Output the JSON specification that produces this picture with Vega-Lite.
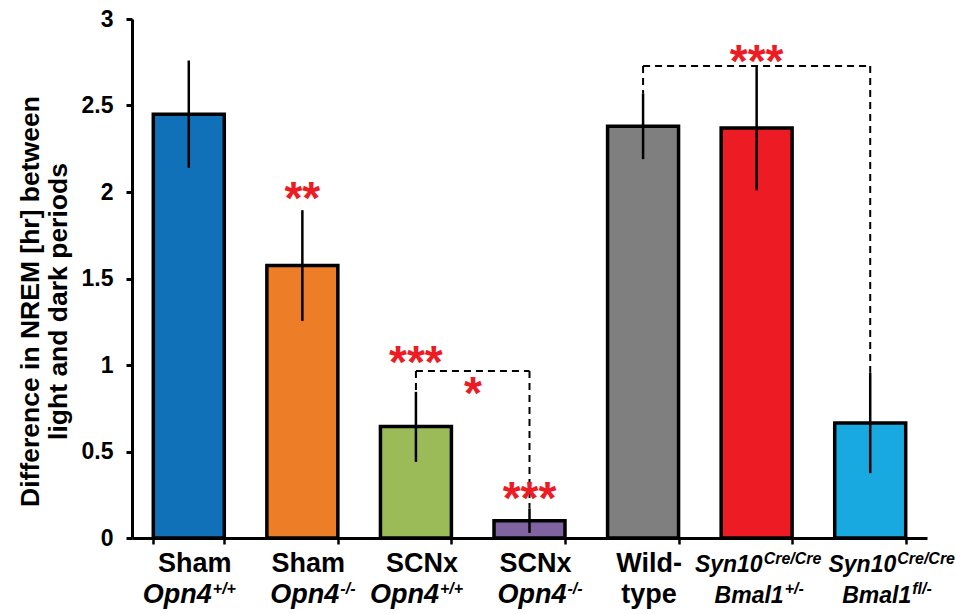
{
  "$schema": "https://vega.github.io/schema/vega-lite/v6.json",
  "width": 795,
  "height": 519,
  "autosize": {"type": "none"},
  "padding": {"left": 132, "top": 19, "right": 29, "bottom": 76},
  "background": "white",
  "config": {"view": {"stroke": null}, "font": "Liberation Sans"},
  "datasets": {
    "bars": [
      {"group": "Sham Opn4+/+", "value": 2.45, "lo": 2.14, "hi": 2.76, "l1": "Sham", "s1": "", "l2": "Opn4", "s2": "+/+"},
      {"group": "Sham Opn4-/-", "value": 1.575, "lo": 1.255, "hi": 1.895, "l1": "Sham", "s1": "", "l2": "Opn4", "s2": "-/-"},
      {"group": "SCNx Opn4+/+", "value": 0.645, "lo": 0.44, "hi": 0.845, "l1": "SCNx", "s1": "", "l2": "Opn4", "s2": "+/+"},
      {"group": "SCNx Opn4-/-", "value": 0.1, "lo": 0.03, "hi": 0.17, "l1": "SCNx", "s1": "", "l2": "Opn4", "s2": "-/-"},
      {"group": "Wild-type", "value": 2.38, "lo": 2.19, "hi": 2.57, "l1": "Wild-", "s1": "", "l2": "type", "s2": ""},
      {"group": "Syn10 Bmal1+/-", "value": 2.37, "lo": 2.01, "hi": 2.73, "l1": "Syn10", "s1": "Cre/Cre", "l2": "Bmal1", "s2": "+/-"},
      {"group": "Syn10 Bmal1fl/-", "value": 0.665, "lo": 0.375, "hi": 0.955, "l1": "Syn10", "s1": "Cre/Cre", "l2": "Bmal1", "s2": "fl/-"}
    ],
    "brackets": [
      {"group": "SCNx Opn4+/+", "group2": "SCNx Opn4-/-", "ya": 0.965, "yb": 0.965},
      {"group": "SCNx Opn4+/+", "group2": "SCNx Opn4+/+", "ya": 0.965, "yb": 0.845},
      {"group": "SCNx Opn4-/-", "group2": "SCNx Opn4-/-", "ya": 0.965, "yb": 0.17},
      {"group": "Wild-type", "group2": "Syn10 Bmal1fl/-", "ya": 2.728, "yb": 2.728},
      {"group": "Wild-type", "group2": "Wild-type", "ya": 2.728, "yb": 2.57},
      {"group": "Syn10 Bmal1fl/-", "group2": "Syn10 Bmal1fl/-", "ya": 2.728, "yb": 0.955}
    ],
    "stars": [
      {"group": "Sham Opn4-/-", "stars": "**", "y": 1.875},
      {"group": "SCNx Opn4+/+", "stars": "***", "y": 0.922},
      {"group": "SCNx Opn4-/-", "stars": "***", "y": 0.141},
      {"group": "Syn10 Bmal1+/-", "stars": "***", "y": 2.665},
      {"group": "SCNx Opn4+/+", "stars": "*", "y": 0.745}
    ]
  },
  "encoding": {
    "x": {
      "field": "group",
      "type": "nominal",
      "sort": null,
      "scale": {
        "domain": ["Sham Opn4+/+", "Sham Opn4-/-", "SCNx Opn4+/+", "SCNx Opn4-/-", "Wild-type", "Syn10 Bmal1+/-", "Syn10 Bmal1fl/-"],
        "paddingInner": 0.375,
        "paddingOuter": 0.1875
      },
      "axis": {
        "labels": false,
        "title": null,
        "grid": false,
        "tickBand": "extent",
        "domainColor": "black",
        "domainWidth": 3,
        "tickColor": "black",
        "tickWidth": 2.5,
        "tickSize": 6
      }
    }
  },
  "layer": [
    {
      "data": {"name": "bars"},
      "mark": {"type": "bar", "stroke": "black", "strokeWidth": 3.5},
      "encoding": {
        "y": {
          "field": "value",
          "type": "quantitative",
          "scale": {"domain": [0, 3], "nice": false, "zero": true},
          "axis": {
            "values": [0, 0.5, 1, 1.5, 2, 2.5, 3],
            "format": "~g",
            "grid": false,
            "domainColor": "black",
            "domainWidth": 3,
            "tickColor": "black",
            "tickWidth": 3,
            "tickSize": 6,
            "labelFont": "Liberation Sans",
            "labelFontWeight": "bold",
            "labelFontSize": 23,
            "labelColor": "black",
            "labelPadding": 13,
            "title": ["Difference in NREM [hr] between", "light and dark periods"],
            "titleFont": "Liberation Sans",
            "titleFontWeight": "bold",
            "titleFontSize": 26.5,
            "titleColor": "black",
            "titleLineHeight": 28,
            "titleAngle": -90,
            "titleBaseline": "alphabetic",
            "titleX": -94,
            "titleY": 282
          }
        },
        "color": {
          "field": "group",
          "type": "nominal",
          "scale": {
            "domain": ["Sham Opn4+/+", "Sham Opn4-/-", "SCNx Opn4+/+", "SCNx Opn4-/-", "Wild-type", "Syn10 Bmal1+/-", "Syn10 Bmal1fl/-"],
            "range": ["#1070B8", "#ED7D27", "#9BBB59", "#8064A2", "#7F7F7F", "#ED1C24", "#17A9E0"]
          },
          "legend": null
        }
      }
    },
    {
      "data": {"name": "bars"},
      "mark": {"type": "rule", "color": "black", "strokeWidth": 2.5},
      "encoding": {
        "y": {"field": "lo", "type": "quantitative"},
        "y2": {"field": "hi"}
      }
    },
    {
      "data": {"name": "brackets"},
      "mark": {"type": "rule", "color": "black", "strokeWidth": 2, "strokeDash": [7, 5]},
      "encoding": {
        "x2": {"field": "group2"},
        "y": {"field": "ya", "type": "quantitative"},
        "y2": {"field": "yb"}
      }
    },
    {
      "data": {"name": "bars"},
      "transform": [{"filter": "datum.s1 == ''"}],
      "mark": {"type": "text", "font": "Liberation Sans", "fontWeight": "bold", "fontSize": 27, "color": "black", "baseline": "alphabetic", "align": "center", "dx": 6},
      "encoding": {
        "y": {"datum": -0.1965, "type": "quantitative"},
        "text": {"field": "l1"}
      }
    },
    {
      "data": {"name": "bars"},
      "transform": [{"filter": "datum.group == 'Wild-type'"}],
      "mark": {"type": "text", "font": "Liberation Sans", "fontWeight": "bold", "fontSize": 27, "color": "black", "baseline": "alphabetic", "align": "center", "dx": 6},
      "encoding": {
        "y": {"datum": -0.376, "type": "quantitative"},
        "text": {"field": "l2"}
      }
    },
    {
      "data": {"name": "bars"},
      "transform": [{"filter": "datum.s2 == '+/+'"}],
      "mark": {"type": "text", "font": "Liberation Sans", "fontWeight": "bold", "fontStyle": "italic", "fontSize": 27, "color": "black", "baseline": "alphabetic", "align": "right", "dx": 23},
      "encoding": {
        "y": {"datum": -0.376, "type": "quantitative"},
        "text": {"field": "l2"}
      }
    },
    {
      "data": {"name": "bars"},
      "transform": [{"filter": "datum.s2 == '+/+'"}],
      "mark": {"type": "text", "font": "Liberation Sans", "fontWeight": "bold", "fontStyle": "italic", "fontSize": 16, "color": "black", "baseline": "alphabetic", "align": "left", "dx": 24, "dy": -9},
      "encoding": {
        "y": {"datum": -0.376, "type": "quantitative"},
        "text": {"field": "s2"}
      }
    },
    {
      "data": {"name": "bars"},
      "transform": [{"filter": "datum.s2 == '-/-'"}],
      "mark": {"type": "text", "font": "Liberation Sans", "fontWeight": "bold", "fontStyle": "italic", "fontSize": 27, "color": "black", "baseline": "alphabetic", "align": "right", "dx": 37},
      "encoding": {
        "y": {"datum": -0.376, "type": "quantitative"},
        "text": {"field": "l2"}
      }
    },
    {
      "data": {"name": "bars"},
      "transform": [{"filter": "datum.s2 == '-/-'"}],
      "mark": {"type": "text", "font": "Liberation Sans", "fontWeight": "bold", "fontStyle": "italic", "fontSize": 16, "color": "black", "baseline": "alphabetic", "align": "left", "dx": 38, "dy": -9},
      "encoding": {
        "y": {"datum": -0.376, "type": "quantitative"},
        "text": {"field": "s2"}
      }
    },
    {
      "data": {"name": "bars"},
      "transform": [{"filter": "datum.group == 'Syn10 Bmal1+/-'"}],
      "mark": {"type": "text", "font": "Liberation Sans", "fontWeight": "bold", "fontStyle": "italic", "fontSize": 23, "color": "black", "baseline": "alphabetic", "align": "right", "dx": 6},
      "encoding": {
        "y": {"datum": -0.1965, "type": "quantitative"},
        "text": {"field": "l1"}
      }
    },
    {
      "data": {"name": "bars"},
      "transform": [{"filter": "datum.group == 'Syn10 Bmal1+/-'"}],
      "mark": {"type": "text", "font": "Liberation Sans", "fontWeight": "bold", "fontStyle": "italic", "fontSize": 16, "color": "black", "baseline": "alphabetic", "align": "left", "dx": 7, "dy": -8},
      "encoding": {
        "y": {"datum": -0.1965, "type": "quantitative"},
        "text": {"field": "s1"}
      }
    },
    {
      "data": {"name": "bars"},
      "transform": [{"filter": "datum.group == 'Syn10 Bmal1+/-'"}],
      "mark": {"type": "text", "font": "Liberation Sans", "fontWeight": "bold", "fontStyle": "italic", "fontSize": 23, "color": "black", "baseline": "alphabetic", "align": "right", "dx": 27},
      "encoding": {
        "y": {"datum": -0.376, "type": "quantitative"},
        "text": {"field": "l2"}
      }
    },
    {
      "data": {"name": "bars"},
      "transform": [{"filter": "datum.group == 'Syn10 Bmal1+/-'"}],
      "mark": {"type": "text", "font": "Liberation Sans", "fontWeight": "bold", "fontStyle": "italic", "fontSize": 16, "color": "black", "baseline": "alphabetic", "align": "left", "dx": 28, "dy": -9},
      "encoding": {
        "y": {"datum": -0.376, "type": "quantitative"},
        "text": {"field": "s2"}
      }
    },
    {
      "data": {"name": "bars"},
      "transform": [{"filter": "datum.group == 'Syn10 Bmal1fl/-'"}],
      "mark": {"type": "text", "font": "Liberation Sans", "fontWeight": "bold", "fontStyle": "italic", "fontSize": 23, "color": "black", "baseline": "alphabetic", "align": "right", "dx": 26},
      "encoding": {
        "y": {"datum": -0.1965, "type": "quantitative"},
        "text": {"field": "l1"}
      }
    },
    {
      "data": {"name": "bars"},
      "transform": [{"filter": "datum.group == 'Syn10 Bmal1fl/-'"}],
      "mark": {"type": "text", "font": "Liberation Sans", "fontWeight": "bold", "fontStyle": "italic", "fontSize": 16, "color": "black", "baseline": "alphabetic", "align": "left", "dx": 27, "dy": -8},
      "encoding": {
        "y": {"datum": -0.1965, "type": "quantitative"},
        "text": {"field": "s1"}
      }
    },
    {
      "data": {"name": "bars"},
      "transform": [{"filter": "datum.group == 'Syn10 Bmal1fl/-'"}],
      "mark": {"type": "text", "font": "Liberation Sans", "fontWeight": "bold", "fontStyle": "italic", "fontSize": 23, "color": "black", "baseline": "alphabetic", "align": "right", "dx": 41},
      "encoding": {
        "y": {"datum": -0.376, "type": "quantitative"},
        "text": {"field": "l2"}
      }
    },
    {
      "data": {"name": "bars"},
      "transform": [{"filter": "datum.group == 'Syn10 Bmal1fl/-'"}],
      "mark": {"type": "text", "font": "Liberation Sans", "fontWeight": "bold", "fontStyle": "italic", "fontSize": 16, "color": "black", "baseline": "alphabetic", "align": "left", "dx": 42, "dy": -9},
      "encoding": {
        "y": {"datum": -0.376, "type": "quantitative"},
        "text": {"field": "s2"}
      }
    },
    {
      "data": {"name": "stars"},
      "transform": [{"filter": "datum.stars != '*'"}],
      "mark": {"type": "text", "font": "Liberation Sans", "fontWeight": "bold", "fontSize": 46, "color": "#ED1C24", "baseline": "alphabetic", "align": "center"},
      "encoding": {
        "y": {"field": "y", "type": "quantitative"},
        "text": {"field": "stars"}
      }
    },
    {
      "data": {"name": "stars"},
      "transform": [{"filter": "datum.stars == '*'"}],
      "mark": {"type": "text", "font": "Liberation Sans", "fontWeight": "bold", "fontSize": 46, "color": "#ED1C24", "baseline": "alphabetic", "align": "center", "dx": 57},
      "encoding": {
        "y": {"field": "y", "type": "quantitative"},
        "text": {"field": "stars"}
      }
    }
  ]
}
